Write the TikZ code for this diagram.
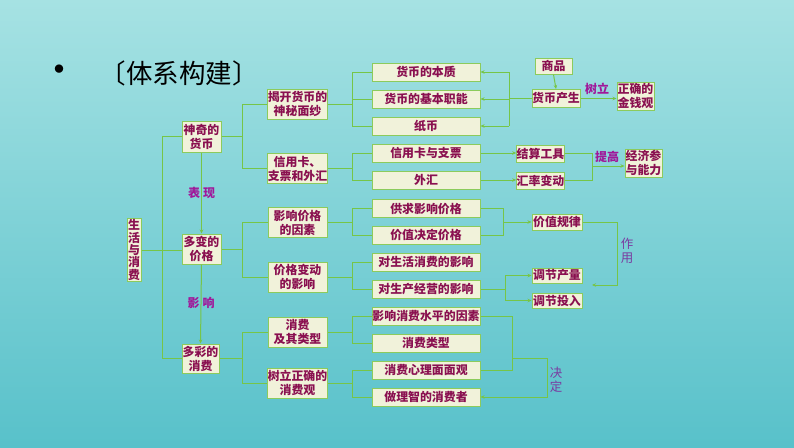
\documentclass[tikz,border=0pt]{standalone}
\usepackage{fontspec}
\newfontfamily\cjk{Noto Sans CJK SC}
\usetikzlibrary{arrows.meta}
\definecolor{bgtop}{HTML}{A6E2E3}
\definecolor{bgbot}{HTML}{58C1CA}
\definecolor{bfill}{HTML}{F1F2DA}
\definecolor{bgreen}{HTML}{8CCB5C}
\definecolor{lgreen}{HTML}{76C548}
\definecolor{btext}{HTML}{8A1050}
\definecolor{lblm}{HTML}{A0189A}
\definecolor{lblp}{HTML}{7A3CA0}
\tikzset{
  box/.style={draw=bgreen, fill=bfill, line width=1pt, text=btext, inner sep=0pt,
    align=center, font=\cjk\bfseries\fontsize{11.9}{14}\selectfont},
  conn/.style={draw=lgreen, line width=1pt},
  arr/.style={conn, -{Stealth[length=4pt,width=3.5pt]}},
  lbl/.style={text=lblm, inner sep=0pt, font=\cjk\bfseries\fontsize{12}{13}\selectfont},
  vlbl/.style={text=lblp, inner sep=0pt, align=center, font=\cjk\fontsize{12.5}{13.5}\selectfont},
}
\begin{document}
\begin{tikzpicture}[x=1pt,y=-1pt]
\shade[top color=bgtop, bottom color=bgbot] (0,0) rectangle (794,447);
\useasboundingbox (0,0) rectangle (794,447);
% title
\node[inner sep=0pt, font=\cjk\bfseries\fontsize{30}{30}\selectfont] (bul) at (59,73) {•};
\node[inner sep=0pt, font=\cjk\fontsize{26.5}{28}\selectfont] (title) at (179,73) {〔体系构建〕};
% column 1
\node[box, minimum width=14, minimum height=63, font=\cjk\bfseries\fontsize{11.9}{12.3}\selectfont] (life) at (134,250) {生\\活\\与\\消\\费};
\node[box, minimum width=39, minimum height=31] (money) at (201.5,136.5) {神奇的\\货币};
\node[box, minimum width=39, minimum height=30] (price) at (201.5,249) {多变的\\价格};
\node[box, minimum width=37, minimum height=29] (cons) at (200.5,358.5) {多彩的\\消费};
% column 2
\node[box, minimum width=59, minimum height=30] (reveal) at (297.5,104) {揭开货币的\\神秘面纱};
\node[box, minimum width=59, minimum height=30] (credit) at (297.5,168.5) {信用卡、\\支票和外汇};
\node[box, minimum width=59, minimum height=30] (factors) at (297.5,222.5) {影响价格\\的因素};
\node[box, minimum width=59, minimum height=30] (effect) at (297.5,277) {价格变动\\的影响};
\node[box, minimum width=59, minimum height=30] (ctype) at (297.5,332) {消费\\及其类型};
\node[box, minimum width=59, minimum height=30] (view) at (297.5,383) {树立正确的\\消费观};
% column 3
\tikzset{cbox/.style={box, minimum width=108, minimum height=18}}
\node[cbox] (c1) at (426,72) {货币的本质};
\node[cbox] (c2) at (426,99) {货币的基本职能};
\node[cbox] (c3) at (426,126) {纸币};
\node[cbox] (c4) at (426,153) {信用卡与支票};
\node[cbox] (c5) at (426,180) {外汇};
\node[cbox] (c6) at (426,208.5) {供求影响价格};
\node[cbox] (c7) at (426,235) {价值决定价格};
\node[cbox] (c8) at (426,262) {对生活消费的影响};
\node[cbox] (c9) at (426,289) {对生产经营的影响};
\node[cbox] (c10) at (426,316) {影响消费水平的因素};
\node[cbox] (c11) at (426,343) {消费类型};
\node[cbox] (c12) at (426,370) {消费心理面面观};
\node[cbox] (c13) at (426,397) {做理智的消费者};
% column 4
\node[box, minimum width=37, minimum height=16] (goods) at (553.5,66) {商品};
\node[box, minimum width=48, minimum height=18] (birth) at (556,98.5) {货币产生};
\node[box, minimum width=37, minimum height=28] (mview) at (635.5,96) {正确的\\金钱观};
\node[box, minimum width=47, minimum height=17] (settle) at (540.5,153.5) {结算工具};
\node[box, minimum width=47, minimum height=17] (rate) at (540.5,180.5) {汇率变动};
\node[box, minimum width=37, minimum height=28] (ability) at (643.5,163) {经济参\\与能力};
\node[box, minimum width=50, minimum height=16] (law) at (557,222) {价值规律};
\node[box, minimum width=50, minimum height=15] (output) at (557,275.5) {调节产量};
\node[box, minimum width=50, minimum height=15] (input) at (557,300.5) {调节投入};
% junction coordinates
\coordinate (jA) at (162,0);
\coordinate (jB) at (242,0);
\coordinate (jC) at (352,0);
\coordinate (jD) at (509,0);
\coordinate (jE) at (592,0);
\coordinate (jF) at (503,0);
\coordinate (jG) at (617,0);
\coordinate (jH) at (505,0);
\coordinate (jI) at (512,0);
\coordinate (jJ) at (547,0);
% trunk
\draw[conn] (money.west) -- (money.west -| jA) -- (cons.west -| jA) -- (cons.west);
\draw[conn] (life.east) -- (life.east -| price.west);
\draw[arr] (money.south) -- (price.north) node[midway, lbl] {表\hspace{3pt}现};
\draw[arr] (price.south) -- (cons.north) node[midway, lbl, yshift=1.5] {影\hspace{3pt}响};
% column 1 -> 2
\draw[conn] (reveal.west) -- (reveal.west -| jB) -- (credit.west -| jB) -- (credit.west);
\draw[conn] (money.east) -- (money.east -| jB);
\draw[conn] (factors.west) -- (factors.west -| jB) -- (effect.west -| jB) -- (effect.west);
\draw[conn] (price.east) -- (price.east -| jB);
\draw[conn] (ctype.west) -- (ctype.west -| jB) -- (view.west -| jB) -- (view.west);
\draw[conn] (cons.east) -- (cons.east -| jB);
% column 2 -> 3
\draw[conn] (c1.west) -- (c1.west -| jC) -- (c3.west -| jC) -- (c3.west);
\draw[conn] (c2.west) -- (c2.west -| jC);
\draw[conn] (reveal.east) -- (reveal.east -| jC);
\draw[conn] (c4.west) -- (c4.west -| jC) -- (c5.west -| jC) -- (c5.west);
\draw[conn] (credit.east) -- (credit.east -| jC);
\draw[conn] (c6.west) -- (c6.west -| jC) -- (c7.west -| jC) -- (c7.west);
\draw[conn] (factors.east) -- (factors.east -| jC);
\draw[conn] (c8.west) -- (c8.west -| jC) -- (c9.west -| jC) -- (c9.west);
\draw[conn] (effect.east) -- (effect.east -| jC);
\draw[conn] (c10.west) -- (c10.west -| jC) -- (c11.west -| jC) -- (c11.west);
\draw[conn] (ctype.east) -- (ctype.east -| jC);
\draw[conn] (c12.west) -- (c12.west -| jC) -- (c13.west -| jC) -- (c13.west);
\draw[conn] (view.east) -- (view.east -| jC);
% money origin
\draw[arr] (goods.south) -- (birth.north);
\draw[conn] (birth.west) -- (birth.west -| jD);
\draw[conn] (c1.east -| jD) -- (c3.east -| jD);
\draw[arr] (c1.east -| jD) -- (c1.east);
\draw[arr] (c2.east -| jD) -- (c2.east);
\draw[arr] (c3.east -| jD) -- (c3.east);
\draw[arr] (birth.east) -- (birth.east -| mview.west);
\node[lbl] (shuli) at (597,89) {树立};
% credit
\draw[arr] (c4.east) -- (c4.east -| settle.west);
\draw[arr] (c5.east) -- (c5.east -| rate.west);
\draw[conn] (settle.east) -- (settle.east -| jE) -- (rate.east -| jE) -- (rate.east);
\coordinate (m1) at (592,166);
\draw[arr] (m1) -- (m1 -| ability.west);
\node[lbl] (tigao) at (607,157) {提高};
% price
\draw[conn] (c6.east) -- (c6.east -| jF) -- (c7.east -| jF) -- (c7.east);
\draw[arr] (jF |- law.west) -- (law.west);
\coordinate (zy) at (592,285);
\draw[arr] (law.east) -- (law.east -| jG) -- (zy -| jG) -- (zy);
\node[vlbl] (zuoyong) at (627,251) {作\\用};
\draw[conn] (c9.east) -- (c9.east -| jH);
\draw[conn] (output.west -| jH) -- (input.west -| jH);
\draw[arr] (output.west -| jH) -- (output.west);
\draw[arr] (input.west -| jH) -- (input.west);
% consumption
\draw[conn] (c10.east) -- (c10.east -| jI) -- (c12.east -| jI) -- (c12.east);
\coordinate (dm) at (512,358);
\draw[arr] (dm) -- (dm -| jJ) -- (c13.east -| jJ) -- (c13.east);
\node[vlbl] (jueding) at (556,380) {决\\定};
\end{tikzpicture}
\end{document}
